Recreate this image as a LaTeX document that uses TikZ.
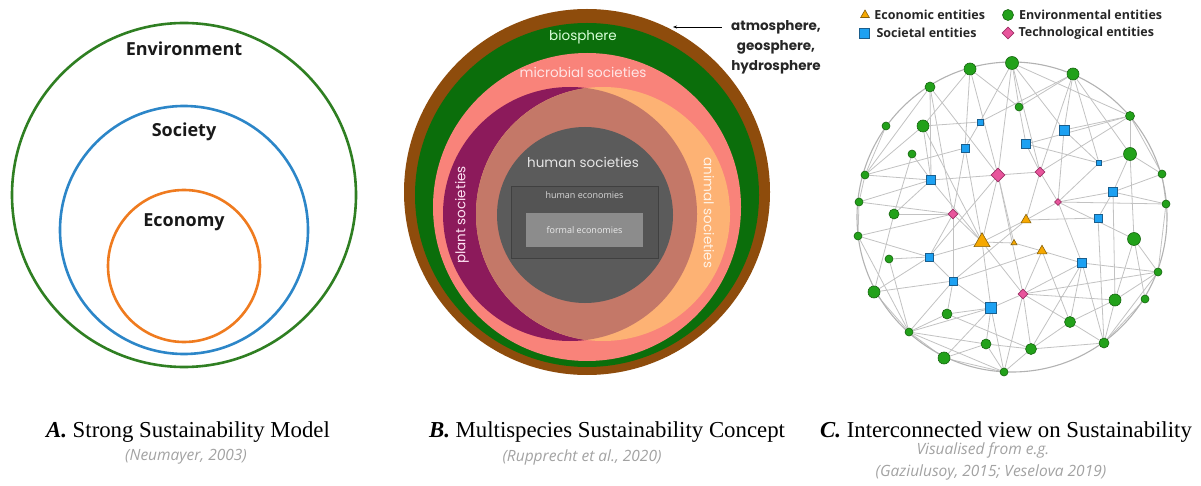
\documentclass[tikz,border=0pt]{standalone}
\usepackage{fontspec}
\setmainfont{Liberation Serif}
\newfontfamily\labelfont{Open Sans}
\newfontfamily\bandfont{Poppins}
\usetikzlibrary{shapes.geometric,positioning,backgrounds,arrows.meta}

\definecolor{ringgreen}{HTML}{2F7F22}
\definecolor{ringblue}{HTML}{2C86C8}
\definecolor{ringorange}{HTML}{EF7B1F}
\definecolor{atmobrown}{HTML}{8E4C0C}
\definecolor{biogreen}{HTML}{0B6E0B}
\definecolor{micropink}{HTML}{F9837A}
\definecolor{plantpurple}{HTML}{8C1A5B}
\definecolor{animalorange}{HTML}{FDB274}
\definecolor{lensbrown}{HTML}{C47868}
\definecolor{humangrey}{HTML}{5B5B5B}
\definecolor{econgrey}{HTML}{545454}
\definecolor{formalgrey}{HTML}{8C8C8C}
\definecolor{envfill}{HTML}{22A11A}
\definecolor{envdark}{HTML}{16650F}
\definecolor{socfill}{HTML}{1DA1F2}
\definecolor{socdark}{HTML}{1B5E8C}
\definecolor{tecfill}{HTML}{E8559C}
\definecolor{tecdark}{HTML}{9E3066}
\definecolor{ecofill}{HTML}{F6A800}
\definecolor{ecodark}{HTML}{86600A}
\definecolor{linkgrey}{HTML}{C2C2C2}
\definecolor{citegrey}{HTML}{A2A2A2}

\tikzset{
  modellabel/.style={font=\labelfont\bfseries\fontsize{18}{20}\selectfont, text=black!90},
  bandlabel/.style={font=\bandfont\fontsize{13.5}{15}\selectfont},
  envnode/.style={circle, draw=envdark, fill=envfill, line width=0.6pt, inner sep=0pt, minimum size=#1},
  socnode/.style={rectangle, draw=socdark, fill=socfill, line width=0.6pt, inner sep=0pt, minimum size=#1},
  tecnode/.style={diamond, draw=tecdark, fill=tecfill, line width=0.6pt, inner sep=0pt, minimum size=#1},
  econode/.style={regular polygon, regular polygon sides=3, draw=ecodark, fill=ecofill, line width=0.6pt, inner sep=0pt, minimum size=#1},
  link/.style={draw=linkgrey, line width=0.8pt},
  legendtext/.style={font=\labelfont\bfseries\fontsize{12.5}{14}\selectfont, text=black!85, anchor=west, inner sep=0pt},
  caption/.style={font=\fontsize{22.8}{25}\selectfont, inner sep=0pt},
  citation/.style={font=\labelfont\itshape\fontsize{15.5}{17}\selectfont, text=citegrey, inner sep=0pt},
}

\begin{document}
\begin{tikzpicture}[x=1pt,y=-1pt]
\useasboundingbox (0,0) rectangle (1201,486);

% A: nested circles
\draw[ringgreen, line width=2.6pt] (184,195) circle[radius=172pt];
\draw[ringblue, line width=2.6pt] (184,230) circle[radius=124pt];
\draw[ringorange, line width=2.6pt] (184,266) circle[radius=76pt];
\node[modellabel] (Env) at (184,49) {Environment};
\node[modellabel] (Soc) at (184,132) {Society};
\node[modellabel] (Eco) at (184,222) {Economy};

% B: multispecies spheres
\fill[atmobrown] (587,192) circle[radius=183pt];
\fill[biogreen] (587,195) circle[radius=172pt];
\fill[micropink] (587,207) circle[radius=154pt];
\fill[plantpurple] (570,214) circle[radius=127pt];
\fill[animalorange] (603,214) circle[radius=127pt];
\begin{scope}
  \clip (570,214) circle[radius=127pt];
  \fill[lensbrown] (603,214) circle[radius=127pt];
\end{scope}
\fill[humangrey] (585,215) circle[radius=88pt];
\node[draw=black!75, fill=econgrey, line width=0.7pt, minimum width=147pt, minimum height=72pt] (HumEcon) at (584.5,222) {};
\node[fill=formalgrey, minimum width=117pt, minimum height=34pt, inner sep=0pt,
      font=\labelfont\fontsize{9}{10}\selectfont, text=white!92!black] (FormEcon) at (584.5,230) {formal economies};
\node[font=\labelfont\fontsize{9}{10}\selectfont, text=white!85!black] (HumEconTxt) at (584.5,195) {human economies};
\node[bandlabel, text=green!15!white] (Bio) at (583,37) {biosphere};
\node[bandlabel, text=red!10!white] (Micro) at (583,72) {microbial societies};
\node[bandlabel, text=white!90!black] (HumSoc) at (583,162) {human societies};
\node[bandlabel, text=magenta!12!white, rotate=90] (Plant) at (462,215) {plant societies};
\node[bandlabel, text=orange!10!white, rotate=-90] (Animal) at (709,213) {animal societies};
\node[font=\bandfont\bfseries\fontsize{13.5}{20}\selectfont, text=black!85, align=center, anchor=north] (Atmo) at (776,17) {atmosphere,\\geosphere,\\hydrosphere};
\coordinate (AtmoTip) at (673,27);
\draw[-{Stealth[length=4pt,width=3pt]}, line width=0.6pt] ([xshift=-6pt]Atmo.west |- AtmoTip) -- (AtmoTip);

% C: legend
\node[econode=10pt] (LegEc) at (865,15) {};
\node[legendtext, right=6pt of LegEc] {Economic entities};
\node[envnode=11pt] (LegEn) at (1008,15) {};
\node[legendtext, right=5pt of LegEn] {Environmental entities};
\node[socnode=10pt] (LegSo) at (864,33) {};
\node[legendtext, right=7pt of LegSo] {Societal entities};
\node[tecnode=12pt] (LegTe) at (1008,33) {};
\node[legendtext, right=4pt of LegTe] {Technological entities};

% C: network
\draw[draw=black!30, line width=1.1pt] (1012,217) circle[radius=155pt];

\node[envnode=13pt] (En_1) at (1012,63) {};
\node[envnode=12pt] (En_2) at (970,69) {};
\node[envnode=12pt] (En_3) at (1073,74) {};
\node[envnode=10pt] (En_4) at (930,87) {};
\node[envnode=8pt] (En_5) at (886,126) {};
\node[envnode=12pt] (En_6) at (923,126) {};
\node[envnode=8pt] (En_7) at (1019,107) {};
\node[envnode=9pt] (En_8) at (1130,116) {};
\node[envnode=8pt] (En_9) at (912,154) {};
\node[envnode=13pt] (En_10) at (1130,154) {};
\node[envnode=8pt] (En_11) at (865,175) {};
\node[envnode=8pt] (En_12) at (1162,174) {};
\node[envnode=8pt] (En_13) at (859,202) {};
\node[envnode=10pt] (En_14) at (894,214) {};
\node[envnode=8pt] (En_15) at (1166,204) {};
\node[envnode=8pt] (En_16) at (858,236) {};
\node[envnode=8pt] (En_17) at (889,259) {};
\node[envnode=13pt] (En_18) at (1134,239) {};
\node[envnode=8pt] (En_19) at (1158,272) {};
\node[envnode=12pt] (En_20) at (874,292) {};
\node[envnode=12pt] (En_21) at (1115,300) {};
\node[envnode=8pt] (En_22) at (1145,299) {};
\node[envnode=10pt] (En_23) at (947,314) {};
\node[envnode=11pt] (En_24) at (1070,322) {};
\node[envnode=8pt] (En_25) at (909,332) {};
\node[envnode=10pt] (En_26) at (986,344) {};
\node[envnode=10pt] (En_27) at (1104,343) {};
\node[envnode=11pt] (En_28) at (1031,349) {};
\node[envnode=12pt] (En_29) at (944,358) {};
\node[envnode=8pt] (En_30) at (1004,372) {};

\node[socnode=6pt] (So_1) at (980,122) {};
\node[socnode=10pt] (So_2) at (1064,130) {};
\node[socnode=8pt] (So_3) at (965,148) {};
\node[socnode=9pt] (So_4) at (1026,144) {};
\node[socnode=9pt] (So_5) at (931,180) {};
\node[socnode=5pt] (So_6) at (1099,163) {};
\node[socnode=9pt] (So_7) at (1113,192) {};
\node[socnode=8pt] (So_8) at (1098,218) {};
\node[socnode=8pt] (So_9) at (929,257) {};
\node[socnode=8pt] (So_10) at (953,281) {};
\node[socnode=11pt] (So_11) at (991,308) {};
\node[socnode=9pt] (So_12) at (1082,263) {};

\node[tecnode=14pt] (Te_1) at (998,175) {};
\node[tecnode=10pt] (Te_2) at (1040,172) {};
\node[tecnode=10pt] (Te_3) at (953,214) {};
\node[tecnode=7pt] (Te_4) at (1058,202) {};
\node[tecnode=10pt] (Te_5) at (1023,294) {};

\node[econode=11.5pt] (Ec_1) at (1026,220) {};
\node[econode=18.5pt] (Ec_2) at (982,242) {};
\node[econode=7pt] (Ec_3) at (1014,243) {};
\node[econode=11.5pt] (Ec_4) at (1042,251) {};

\begin{scope}[on background layer]
\path[link]
  (En_1) edge (Te_1) edge (En_7) edge (So_1) edge (So_2) edge (En_8) edge (Te_2)
  (En_2) edge (En_6) edge (So_3) edge (Te_1) edge (En_7)
  (En_3) edge (En_7) edge (So_1) edge (So_2) edge (Te_2) edge (So_6) edge (En_10)
  (En_4) edge (So_5) edge (Te_3) edge (Te_1) edge (En_11)
  (En_5) edge (En_11)
  (En_6) edge (So_1) edge (En_11) edge (So_5) edge (Ec_2)
  (En_7) edge (So_4)
  (En_8) edge (So_2) edge (En_10) edge (Te_2) edge (En_12) edge (So_4)
  (En_9) edge (En_14) edge (So_5)
  (En_10) edge (So_6) edge (En_18) edge (So_7) edge (En_12)
  (En_11) edge (So_5) edge (So_3) edge (En_13)
  (En_12) edge (So_7) edge (En_15)
  (En_13) edge (So_5) edge (Te_3) edge (En_16)
  (En_14) edge (Te_3) edge (So_5) edge (En_20)
  (En_15) edge (Te_4) edge (So_7) edge (En_19)
  (En_16) edge (So_9) edge (Te_3) edge (En_25)
  (En_17) edge (So_9) edge (En_25)
  (En_18) edge (En_21) edge (En_19) edge (Te_4)
  (En_19) edge (So_12) edge (Te_5) edge (En_21) edge (En_27)
  (En_20) edge (So_10) edge (En_25) edge (So_9)
  (En_21) edge (So_7) edge (Te_5) edge (En_24) edge (En_27)
  (En_22) edge (En_27) edge (En_18)
  (En_23) edge (So_11) edge (En_25) edge (En_28) edge (So_10)
  (En_24) edge (So_12) edge (Te_5) edge (En_28) edge (En_27) edge (Ec_4)
  (En_25) edge (So_10) edge (So_11) edge (En_29) edge (En_30) edge (En_26)
  (En_26) edge (So_11) edge (En_28) edge (En_30) edge (En_29)
  (En_27) edge (So_8) edge (En_28) edge (So_12)
  (En_28) edge (Te_5) edge (En_30)
  (En_29) edge (En_30) edge (So_11)
  (En_30) edge (So_11) edge (Te_5)
  (So_1) edge (So_3)
  (So_2) edge (Te_4) edge (So_6)
  (So_3) edge (Te_3) edge (Ec_2)
  (So_4) edge (So_6) edge (Te_2)
  (So_5) edge (Te_1) edge (Ec_2)
  (So_6) edge (Te_4)
  (So_7) edge (Te_4) edge (So_8)
  (Te_1) edge (Te_2) edge (Ec_2) edge (Te_5) edge (So_9) edge (Ec_3)
  (Te_2) edge (Te_4) edge (Ec_1)
  (Te_4) edge (Ec_1) edge (So_12)
  (Ec_1) edge (So_8) edge (Ec_2) edge (So_10)
  (Ec_2) edge (So_9) edge (Te_3) edge (So_11) edge (Te_5) edge (Ec_3)
  (Ec_3) edge (Ec_4)
  (Ec_4) edge (So_12) edge (So_10) edge (Te_5)
  (So_12) edge (Te_5) edge (En_28)
  (So_9) edge (Te_3) edge (So_10)
  (So_10) edge (Te_3) edge (So_11)
  (So_11) edge (Te_5);
\end{scope}

% captions
\node[caption] (CapA) at (188,432) {\textbf{\textit{A.}} Strong Sustainability Model};
\node[citation] (CiteA) at (186,457) {(Neumayer, 2003)};
\node[caption] (CapB) at (607,432) {\textbf{\textit{B.}} Multispecies Sustainability Concept};
\node[citation] (CiteB) at (582,457) {(Rupprecht et al., 2020)};
\node[caption] (CapC) at (1006,432) {\textbf{\textit{C.}} Interconnected view on Sustainability};
\node[citation] (CiteC1) at (983,450) {Visualised from e.g.};
\node[citation] (CiteC2) at (991,472) {(Gaziulusoy, 2015; Veselova 2019)};
\end{tikzpicture}
\end{document}
